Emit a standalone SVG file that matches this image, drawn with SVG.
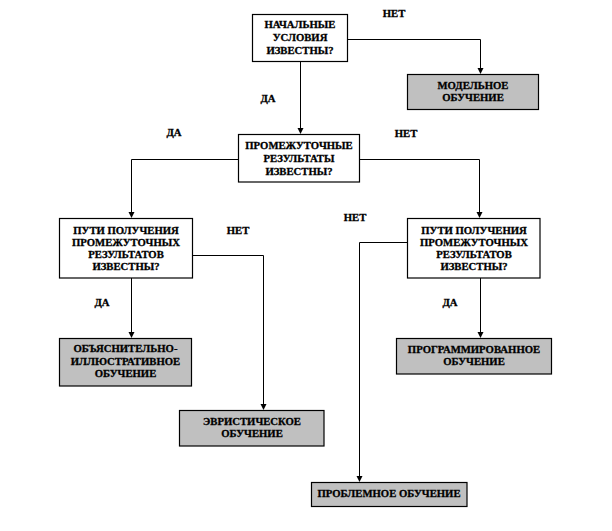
<svg xmlns="http://www.w3.org/2000/svg" width="612" height="531" viewBox="0 0 612 531">
<style>
.box{fill:#ffffff;stroke:#000;stroke-width:1.2}
.term{fill:#c0c0c0;stroke:#000;stroke-width:1.2}
.t,.lbl{font-family:"Liberation Serif","Times New Roman",serif;font-weight:bold;font-size:10.7px;fill:#000;stroke:#000;stroke-width:0.3;text-anchor:middle}
.c{fill:none;stroke:#000;stroke-width:1}
.ah{fill:#000}
</style>
<rect width="612" height="531" fill="#fff"/>
<g id="connectors">
<polyline class="c" points="348,39.5 480.5,39.5 480.5,73"/>
<polyline class="c" points="300.5,62 300.5,133"/>
<polyline class="c" points="238,159.5 131.5,159.5 131.5,217"/>
<polyline class="c" points="360,159.5 479.5,159.5 479.5,217"/>
<polyline class="c" points="193,255.5 263.5,255.5 263.5,409"/>
<polyline class="c" points="131.5,278 131.5,337"/>
<polyline class="c" points="407,242.5 359.5,242.5 359.5,481"/>
<polyline class="c" points="480.5,278 480.5,337"/>
<path class="ah" d="M477.5,68 L483.5,68 L480.5,74 Z"/>
<path class="ah" d="M297.5,128 L303.5,128 L300.5,134 Z"/>
<path class="ah" d="M128.5,212 L134.5,212 L131.5,218 Z"/>
<path class="ah" d="M476.5,212 L482.5,212 L479.5,218 Z"/>
<path class="ah" d="M260.5,404 L266.5,404 L263.5,410 Z"/>
<path class="ah" d="M128.5,332 L134.5,332 L131.5,338 Z"/>
<path class="ah" d="M356.5,476 L362.5,476 L359.5,482 Z"/>
<path class="ah" d="M477.5,332 L483.5,332 L480.5,338 Z"/>
</g>
<g id="edge-labels">
<text class="lbl" x="394" y="17">НЕТ</text>
<text class="lbl" x="268" y="102">ДА</text>
<text class="lbl" x="406" y="137">НЕТ</text>
<text class="lbl" x="174" y="135.5">ДА</text>
<text class="lbl" x="238" y="233.5">НЕТ</text>
<text class="lbl" x="102" y="305.5">ДА</text>
<text class="lbl" x="355" y="220.5">НЕТ</text>
<text class="lbl" x="450" y="305.5">ДА</text>
</g>
<g id="n-initial">
<rect class="box" x="252.5" y="14.5" width="95" height="47"/>
<text class="t" x="300" y="28">НАЧАЛЬНЫЕ</text>
<text class="t" x="300" y="40.5">УСЛОВИЯ</text>
<text class="t" x="300" y="53.5">ИЗВЕСТНЫ?</text>
</g>
<g id="n-model">
<rect class="term" x="407.5" y="74.5" width="131" height="35"/>
<text class="t" x="473" y="88.5">МОДЕЛЬНОЕ</text>
<text class="t" x="473" y="100.5">ОБУЧЕНИЕ</text>
</g>
<g id="n-intermediate">
<rect class="box" x="238.5" y="134.5" width="121" height="47.5"/>
<text class="t" x="299" y="148.5">ПРОМЕЖУТОЧНЫЕ</text>
<text class="t" x="299" y="161.5">РЕЗУЛЬТАТЫ</text>
<text class="t" x="299" y="174.5">ИЗВЕСТНЫ?</text>
</g>
<g id="n-ways-left">
<rect class="box" x="59.5" y="218.5" width="133" height="59.5"/>
<text class="t" x="126" y="233.5">ПУТИ ПОЛУЧЕНИЯ</text>
<text class="t" x="126" y="245.5">ПРОМЕЖУТОЧНЫХ</text>
<text class="t" x="126" y="257.8">РЕЗУЛЬТАТОВ</text>
<text class="t" x="126" y="270">ИЗВЕСТНЫ?</text>
</g>
<g id="n-ways-right">
<rect class="box" x="407.5" y="218.5" width="132.5" height="59.5"/>
<text class="t" x="474" y="233.5">ПУТИ ПОЛУЧЕНИЯ</text>
<text class="t" x="474" y="245.5">ПРОМЕЖУТОЧНЫХ</text>
<text class="t" x="474" y="257.8">РЕЗУЛЬТАТОВ</text>
<text class="t" x="474" y="270">ИЗВЕСТНЫ?</text>
</g>
<g id="n-explanatory">
<rect class="term" x="59.5" y="338.5" width="132" height="47.5"/>
<text class="t" x="125.5" y="351.5">ОБЪЯСНИТЕЛЬНО-</text>
<text class="t" x="125.5" y="364.5">ИЛЛЮСТРАТИВНОЕ</text>
<text class="t" x="125.5" y="377">ОБУЧЕНИЕ</text>
</g>
<g id="n-heuristic">
<rect class="term" x="179.5" y="410.5" width="144.5" height="35.5"/>
<text class="t" x="252" y="424.5">ЭВРИСТИЧЕСКОЕ</text>
<text class="t" x="252" y="436.5">ОБУЧЕНИЕ</text>
</g>
<g id="n-programmed">
<rect class="term" x="396.5" y="338.5" width="155" height="35.5"/>
<text class="t" x="474" y="352.5">ПРОГРАММИРОВАННОЕ</text>
<text class="t" x="474" y="364.5">ОБУЧЕНИЕ</text>
</g>
<g id="n-problem">
<rect class="term" x="311.5" y="482.5" width="155.5" height="24"/>
<text class="t" x="389" y="497">ПРОБЛЕМНОЕ ОБУЧЕНИЕ</text>
</g>
</svg>
